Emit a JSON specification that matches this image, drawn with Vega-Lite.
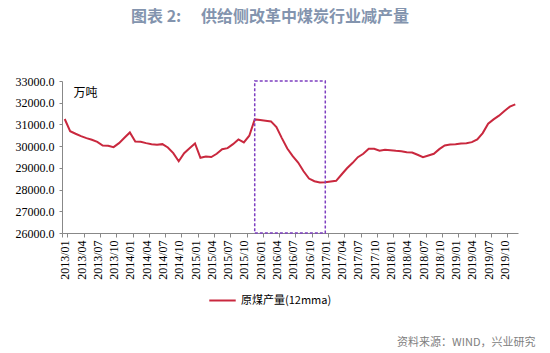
{
  "$schema": "https://vega.github.io/schema/vega-lite/v6.json",
  "width": 456,
  "height": 152,
  "autosize": "none",
  "padding": {"left": 62, "top": 81, "right": 32, "bottom": 120},
  "background": "white",
  "title": {
    "text": "图表 2:　 供给侧改革中煤炭行业减产量",
    "font": "Noto Sans CJK SC",
    "fontSize": 16,
    "fontWeight": "bold",
    "color": "#8394AE",
    "anchor": "middle",
    "dx": -20,
    "offset": 50
  },
  "config": {
    "view": {"stroke": null},
    "axis": {"grid": false, "domainColor": "#888888", "tickColor": "#888888", "labelColor": "#000000", "labelFont": "'Liberation Serif', 'Times New Roman', serif", "labelFontSize": 12, "labelOverlap": false}
  },
  "datasets": {
    "coal": [
      {"month": "2013/01", "value": 31250, "series": "原煤产量(12mma)"},
      {"month": "2013/02", "value": 30690, "series": "原煤产量(12mma)"},
      {"month": "2013/03", "value": 30570, "series": "原煤产量(12mma)"},
      {"month": "2013/04", "value": 30460, "series": "原煤产量(12mma)"},
      {"month": "2013/05", "value": 30370, "series": "原煤产量(12mma)"},
      {"month": "2013/06", "value": 30295, "series": "原煤产量(12mma)"},
      {"month": "2013/07", "value": 30200, "series": "原煤产量(12mma)"},
      {"month": "2013/08", "value": 30030, "series": "原煤产量(12mma)"},
      {"month": "2013/09", "value": 30017, "series": "原煤产量(12mma)"},
      {"month": "2013/10", "value": 29953, "series": "原煤产量(12mma)"},
      {"month": "2013/11", "value": 30138, "series": "原煤产量(12mma)"},
      {"month": "2013/12", "value": 30387, "series": "原煤产量(12mma)"},
      {"month": "2014/01", "value": 30631, "series": "原煤产量(12mma)"},
      {"month": "2014/02", "value": 30216, "series": "原煤产量(12mma)"},
      {"month": "2014/03", "value": 30200, "series": "原煤产量(12mma)"},
      {"month": "2014/04", "value": 30138, "series": "原煤产量(12mma)"},
      {"month": "2014/05", "value": 30092, "series": "原煤产量(12mma)"},
      {"month": "2014/06", "value": 30062, "series": "原煤产量(12mma)"},
      {"month": "2014/07", "value": 30092, "series": "原煤产量(12mma)"},
      {"month": "2014/08", "value": 29939, "series": "原煤产量(12mma)"},
      {"month": "2014/09", "value": 29676, "series": "原煤产量(12mma)"},
      {"month": "2014/10", "value": 29307, "series": "原煤产量(12mma)"},
      {"month": "2014/11", "value": 29676, "series": "原煤产量(12mma)"},
      {"month": "2014/12", "value": 29907, "series": "原煤产量(12mma)"},
      {"month": "2015/01", "value": 30124, "series": "原煤产量(12mma)"},
      {"month": "2015/02", "value": 29463, "series": "原煤产量(12mma)"},
      {"month": "2015/03", "value": 29524, "series": "原煤产量(12mma)"},
      {"month": "2015/04", "value": 29500, "series": "原煤产量(12mma)"},
      {"month": "2015/05", "value": 29648, "series": "原煤产量(12mma)"},
      {"month": "2015/06", "value": 29861, "series": "原煤产量(12mma)"},
      {"month": "2015/07", "value": 29907, "series": "原煤产量(12mma)"},
      {"month": "2015/08", "value": 30092, "series": "原煤产量(12mma)"},
      {"month": "2015/09", "value": 30309, "series": "原煤产量(12mma)"},
      {"month": "2015/10", "value": 30170, "series": "原煤产量(12mma)"},
      {"month": "2015/11", "value": 30479, "series": "原煤产量(12mma)"},
      {"month": "2015/12", "value": 31232, "series": "原煤产量(12mma)"},
      {"month": "2016/01", "value": 31199, "series": "原煤产量(12mma)"},
      {"month": "2016/02", "value": 31171, "series": "原煤产量(12mma)"},
      {"month": "2016/03", "value": 31140, "series": "原煤产量(12mma)"},
      {"month": "2016/04", "value": 30876, "series": "原煤产量(12mma)"},
      {"month": "2016/05", "value": 30370, "series": "原煤产量(12mma)"},
      {"month": "2016/06", "value": 29893, "series": "原煤产量(12mma)"},
      {"month": "2016/07", "value": 29537, "series": "原煤产量(12mma)"},
      {"month": "2016/08", "value": 29246, "series": "原煤产量(12mma)"},
      {"month": "2016/09", "value": 28845, "series": "原煤产量(12mma)"},
      {"month": "2016/10", "value": 28508, "series": "原煤产量(12mma)"},
      {"month": "2016/11", "value": 28383, "series": "原煤产量(12mma)"},
      {"month": "2016/12", "value": 28323, "series": "原煤产量(12mma)"},
      {"month": "2017/01", "value": 28337, "series": "原煤产量(12mma)"},
      {"month": "2017/02", "value": 28370, "series": "原煤产量(12mma)"},
      {"month": "2017/03", "value": 28401, "series": "原煤产量(12mma)"},
      {"month": "2017/04", "value": 28693, "series": "原煤产量(12mma)"},
      {"month": "2017/05", "value": 28983, "series": "原煤产量(12mma)"},
      {"month": "2017/06", "value": 29220, "series": "原煤产量(12mma)"},
      {"month": "2017/07", "value": 29491, "series": "原煤产量(12mma)"},
      {"month": "2017/08", "value": 29648, "series": "原煤产量(12mma)"},
      {"month": "2017/09", "value": 29879, "series": "原煤产量(12mma)"},
      {"month": "2017/10", "value": 29879, "series": "原煤产量(12mma)"},
      {"month": "2017/11", "value": 29787, "series": "原煤产量(12mma)"},
      {"month": "2017/12", "value": 29833, "series": "原煤产量(12mma)"},
      {"month": "2018/01", "value": 29814, "series": "原煤产量(12mma)"},
      {"month": "2018/02", "value": 29787, "series": "原煤产量(12mma)"},
      {"month": "2018/03", "value": 29768, "series": "原煤产量(12mma)"},
      {"month": "2018/04", "value": 29722, "series": "原煤产量(12mma)"},
      {"month": "2018/05", "value": 29708, "series": "原煤产量(12mma)"},
      {"month": "2018/06", "value": 29602, "series": "原煤产量(12mma)"},
      {"month": "2018/07", "value": 29491, "series": "原煤产量(12mma)"},
      {"month": "2018/08", "value": 29570, "series": "原煤产量(12mma)"},
      {"month": "2018/09", "value": 29648, "series": "原煤产量(12mma)"},
      {"month": "2018/10", "value": 29861, "series": "原煤产量(12mma)"},
      {"month": "2018/11", "value": 30032, "series": "原煤产量(12mma)"},
      {"month": "2018/12", "value": 30078, "series": "原煤产量(12mma)"},
      {"month": "2019/01", "value": 30092, "series": "原煤产量(12mma)"},
      {"month": "2019/02", "value": 30124, "series": "原煤产量(12mma)"},
      {"month": "2019/03", "value": 30138, "series": "原煤产量(12mma)"},
      {"month": "2019/04", "value": 30184, "series": "原煤产量(12mma)"},
      {"month": "2019/05", "value": 30309, "series": "原煤产量(12mma)"},
      {"month": "2019/06", "value": 30600, "series": "原煤产量(12mma)"},
      {"month": "2019/07", "value": 31033, "series": "原煤产量(12mma)"},
      {"month": "2019/08", "value": 31232, "series": "原煤产量(12mma)"},
      {"month": "2019/09", "value": 31403, "series": "原煤产量(12mma)"},
      {"month": "2019/10", "value": 31615, "series": "原煤产量(12mma)"},
      {"month": "2019/11", "value": 31818, "series": "原煤产量(12mma)"},
      {"month": "2019/12", "value": 31924, "series": "原煤产量(12mma)"}
    ],
    "box": [
      {"month": "2015/12", "month_end": "2017/01", "value": 33000, "value_low": 26000}
    ]
  },
  "encoding": {
    "x": {
      "field": "month",
      "type": "ordinal",
      "sort": null,
      "bandPosition": 0.5,
      "scale": {"type": "band", "paddingInner": 0, "paddingOuter": 0},
      "axis": {
        "values": ["2013/01","2013/04","2013/07","2013/10","2014/01","2014/04","2014/07","2014/10","2015/01","2015/04","2015/07","2015/10","2016/01","2016/04","2016/07","2016/10","2017/01","2017/04","2017/07","2017/10","2018/01","2018/04","2018/07","2018/10","2019/01","2019/04","2019/07","2019/10"],
        "labelAngle": -90,
        "labelFont": "'Liberation Serif', 'Times New Roman', serif",
        "labelFontSize": 12,
        "labelOverlap": false,
        "tickBand": "extent",
        "tickSize": 4,
        "labelPadding": 3,
        "title": "资料来源：WIND，兴业研究",
        "titleFont": "Noto Sans CJK SC",
        "titleFontSize": 11,
        "titleFontWeight": "normal",
        "titleColor": "#808080",
        "titleAnchor": "end",
        "titleAlign": "right",
        "titleBaseline": "alphabetic",
        "titleX": 473,
        "titleY": 112
      }
    },
    "y": {
      "field": "value",
      "type": "quantitative",
      "scale": {"domain": [26000, 33000], "nice": false, "zero": false},
      "axis": {
        "values": [26000, 27000, 28000, 29000, 30000, 31000, 32000, 33000],
        "format": ".1f",
        "labelFont": "'Liberation Serif', 'Times New Roman', serif",
        "labelFontSize": 12,
        "labelOverlap": false,
        "tickSize": 3,
        "labelPadding": 5,
        "title": "万吨",
        "titleFont": "Noto Sans CJK SC",
        "titleFontSize": 12,
        "titleFontWeight": "normal",
        "titleColor": "#000000",
        "titleAngle": 0,
        "titleAlign": "left",
        "titleBaseline": "alphabetic",
        "titleX": 11,
        "titleY": 15
      }
    }
  },
  "layer": [
    {
      "data": {"name": "coal"},
      "mark": {"type": "line", "strokeWidth": 2},
      "encoding": {
        "color": {
          "field": "series",
          "type": "nominal",
          "scale": {"range": ["#C9283E"]},
          "legend": {
            "title": null,
            "orient": "none",
            "legendX": 146,
            "legendY": 205,
            "symbolType": "stroke",
            "symbolSize": 700,
            "symbolStrokeWidth": 2,
            "labelFont": "Noto Sans CJK SC",
            "labelFontSize": 11,
            "labelColor": "#000000"
          }
        }
      }
    },
    {
      "data": {"name": "box"},
      "mark": {"type": "rect", "fill": null, "fillOpacity": 0, "stroke": "#7E3FC0", "strokeWidth": 1.5, "strokeDash": [3, 2]},
      "encoding": {
        "x2": {"field": "month_end", "bandPosition": 0.5},
        "y2": {"field": "value_low"}
      }
    }
  ]
}
